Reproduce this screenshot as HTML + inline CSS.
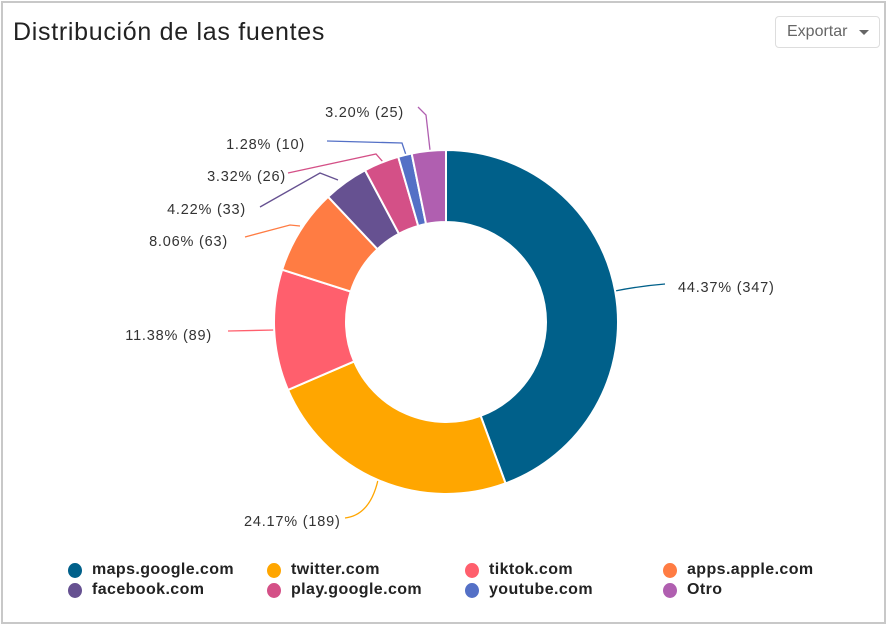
<!DOCTYPE html>
<html><head><meta charset="utf-8"><style>
body{margin:0;width:892px;height:629px;background:#fff;font-family:"Liberation Sans",sans-serif;overflow:hidden}
.card{position:absolute;left:1px;top:1px;width:885px;height:623px;border:2px solid #c8c8c8;border-top-width:2px;box-sizing:border-box}
.title{position:absolute;left:13px;top:18px;font-size:25px;letter-spacing:0.7px;color:#222}
.btn{position:absolute;left:775px;top:16px;width:105px;height:32px;border:1px solid #ddd;border-radius:4px;box-sizing:border-box;font-size:16px;color:#666;line-height:30px;padding-left:11px}
.btn:after{content:"";position:absolute;right:10px;top:13px;border:5px solid transparent;border-top-color:#666}
.leg{position:absolute;font-size:16px;font-weight:bold;color:#222;letter-spacing:0.4px}
.leg i{position:absolute;left:-24px;top:2px;width:14px;height:15px;border-radius:50%}
</style></head><body>
<div class="card"></div>
<div class="title">Distribución de las fuentes</div>
<div class="btn">Exportar</div>
<svg id="s" width="892" height="629" style="position:absolute;left:0;top:0" font-family="Liberation Sans, sans-serif" font-size="14.5" letter-spacing="0.8" fill="#333">
<g fill="none" stroke-width="1.3">
<path d="M615 291 Q640 286 665 284" stroke="#00608a"/>
<path d="M378 480 Q370 515 345 518" stroke="#ffa600"/>
<path d="M228 331 L275 330" stroke="#ff5f6d"/>
<path d="M245 237 L290 225 L300 226" stroke="#ff7c43"/>
<path d="M260 207 L320 173 L338 180" stroke="#665191"/>
<path d="M288 173 L376 154 L383 162" stroke="#d45087"/>
<path d="M327 141 L402 143 L406 155" stroke="#5470c6"/>
<path d="M418 107 L426 115 L430 150" stroke="#b05fb0"/>
</g>
<g id="pie" stroke="#fff" stroke-width="2"></g>
<text x="678" y="292">44.37% (347)</text>
<text x="244" y="526">24.17% (189)</text>
<text x="212" y="340" text-anchor="end">11.38% (89)</text>
<text x="228" y="246" text-anchor="end">8.06% (63)</text>
<text x="246" y="214" text-anchor="end">4.22% (33)</text>
<text x="286" y="181" text-anchor="end">3.32% (26)</text>
<text x="305" y="149" text-anchor="end">1.28% (10)</text>
<text x="404" y="117" text-anchor="end">3.20% (25)</text>
</svg>
<div class="leg" style="left:92px;top:561px"><i style="background:#00608a"></i>maps.google.com</div>
<div class="leg" style="left:291px;top:561px"><i style="background:#ffa600"></i>twitter.com</div>
<div class="leg" style="left:489px;top:561px"><i style="background:#ff5f6d"></i>tiktok.com</div>
<div class="leg" style="left:687px;top:561px"><i style="background:#ff7c43"></i>apps.apple.com</div>
<div class="leg" style="left:92px;top:581px"><i style="background:#665191"></i>facebook.com</div>
<div class="leg" style="left:291px;top:581px"><i style="background:#d45087"></i>play.google.com</div>
<div class="leg" style="left:489px;top:581px"><i style="background:#5470c6"></i>youtube.com</div>
<div class="leg" style="left:687px;top:581px"><i style="background:#b05fb0"></i>Otro</div>
<script>
var d=[[44.37,"#00608a"],[24.17,"#ffa600"],[11.38,"#ff5f6d"],[8.06,"#ff7c43"],[4.22,"#665191"],[3.32,"#d45087"],[1.28,"#5470c6"],[3.20,"#b05fb0"]];
var cx=446,cy=322,R=172,r=100,a=0,g=document.getElementById("pie"),h="";
function p(rr,an){return (cx+rr*Math.sin(an)).toFixed(2)+" "+(cy-rr*Math.cos(an)).toFixed(2)}
d.forEach(function(e){var b=a+e[0]/100*2*Math.PI,l=(b-a)>Math.PI?1:0;
h+='<path fill="'+e[1]+'" d="M'+p(R,a)+' A'+R+' '+R+' 0 '+l+' 1 '+p(R,b)+' L'+p(r,b)+' A'+r+' '+r+' 0 '+l+' 0 '+p(r,a)+' Z"/>';a=b;});
g.innerHTML=h;
</script>
</body></html>
